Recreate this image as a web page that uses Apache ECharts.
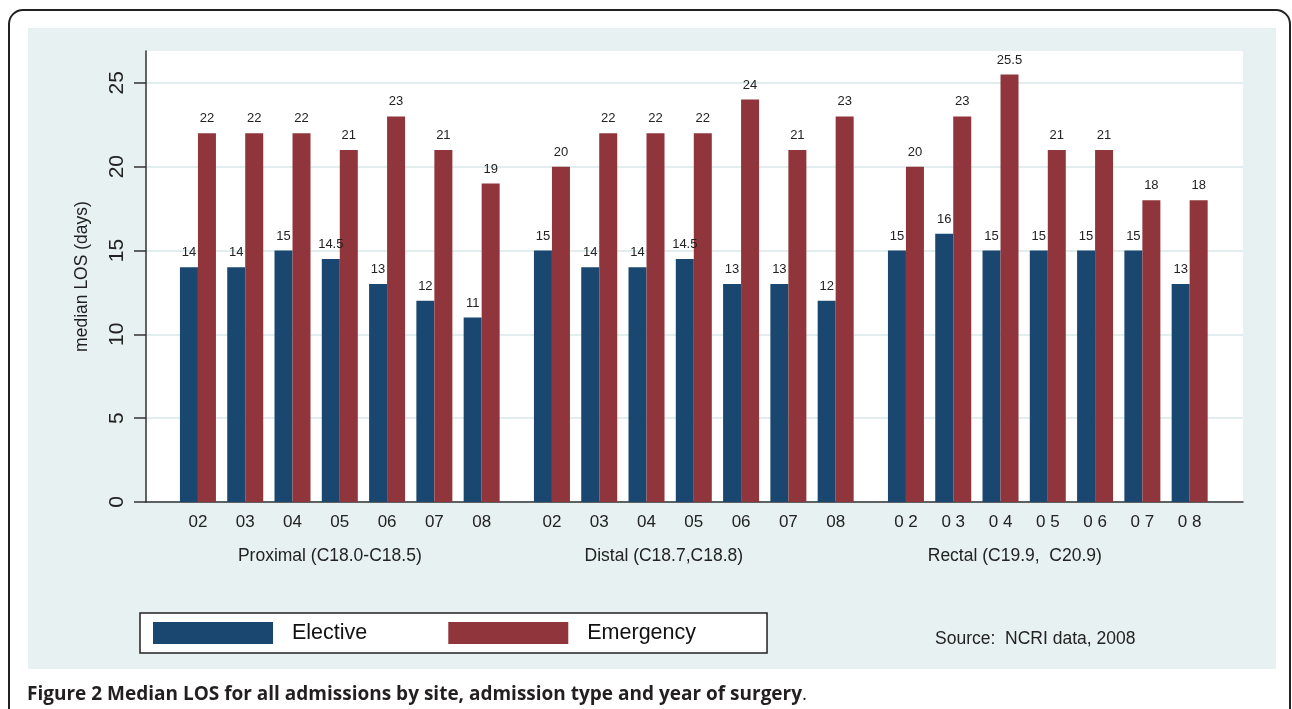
<!DOCTYPE html>
<html>
<head>
<meta charset="utf-8">
<script src="https://cdn.jsdelivr.net/npm/echarts@6/dist/echarts.min.js"></script>
<style>
  html, body { margin: 0; padding: 0; background: #fff; }
  #chart { width: 1292px; height: 709px; }
</style>
</head>
<body>
<div id="chart"></div>
<script>
// values
const years = ['02', '03', '04', '05', '06', '07', '08']
const rectalYears = ['0 2', '0 3', '0 4', '0 5', '0 6', '0 7', '0 8']
const groupNames = ['Proximal (C18.0-C18.5)', 'Distal (C18.7,C18.8)', 'Rectal (C19.9,  C20.9)']

const electiveProximal = [14, 14, 15, 14.5, 13, 12, 11]
const emergencyProximal = [22, 22, 22, 21, 23, 21, 19]
const electiveDistal = [15, 14, 14, 14.5, 13, 13, 12]
const emergencyDistal = [20, 22, 22, 22, 24, 21, 23]
const electiveRectal = [15, 16, 15, 15, 15, 15, 13]
const emergencyRectal = [20, 23, 25.5, 21, 21, 18, 18]

const yTicks = [0, 5, 10, 15, 20, 25]

const font = '"Liberation Sans", Arial, sans-serif'
const navy = '#1a476f'
const maroon = '#90353b'
const ink = '#222'

const chart = echarts.init(document.getElementById('chart'))

const plotTop = 51
const plotBottom = 207
const yMax = 26.9
const groupLeft = [174.3, 528.3, 882.3]
const groupWidth = 331
const groupNamePad = [20, 60, 66]

const groupCats = [years, years, rectalYears]
const groupElective = [electiveProximal, electiveDistal, electiveRectal]
const groupEmergency = [emergencyProximal, emergencyDistal, emergencyRectal]

const grids = [{ left: 146, right: 49, top: plotTop, bottom: plotBottom, show: true, backgroundColor: '#fff', borderWidth: 0 }]
const xAxes = [{
    gridIndex: 0, type: 'value', min: 0, max: 1,
    axisLine: { show: true, lineStyle: { color: '#333', width: 1.5 } },
    axisTick: { show: false }, axisLabel: { show: false }, splitLine: { show: false }
}]
const yAxes = [{
    gridIndex: 0, type: 'value', min: 0, max: yMax,
    name: 'median LOS (days)', nameLocation: 'middle', nameGap: 55, nameRotate: 90,
    nameTextStyle: { fontSize: 17.5, color: ink, fontFamily: font },
    axisLine: { show: true, lineStyle: { color: '#333', width: 1.5 } },
    axisTick: { show: true, length: 12, customValues: yTicks, lineStyle: { color: '#333', width: 1.5 } },
    axisLabel: { customValues: yTicks, rotate: 90, fontSize: 21, color: ink, fontFamily: font, margin: 18 },
    splitLine: { show: true, lineStyle: { color: '#e2edef', width: 2 } }
}]
const series = []

const labelOpt = { show: true, position: 'top', distance: 8, color: ink, fontSize: 13, fontFamily: font }

groupNames.forEach((g, i) => {
    grids.push({ left: groupLeft[i], width: groupWidth, top: plotTop, bottom: plotBottom })
    xAxes.push({
        gridIndex: i + 1, type: 'category', data: groupCats[i],
        axisLine: { show: false }, axisTick: { show: false },
        axisLabel: { fontSize: 17, color: ink, fontFamily: font, margin: 12 },
        name: g, nameLocation: 'middle', nameGap: 45,
        nameTextStyle: { fontSize: 17.5, color: ink, fontFamily: font, padding: [0, groupNamePad[i], 0, 0] }
    })
    yAxes.push({ gridIndex: i + 1, type: 'value', min: 0, max: yMax, show: false })
    series.push({
        name: 'Elective', type: 'bar', xAxisIndex: i + 1, yAxisIndex: i + 1,
        data: groupElective[i], barWidth: 18, barGap: '0%',
        itemStyle: { color: navy }, label: labelOpt
    })
    series.push({
        name: 'Emergency', type: 'bar', xAxisIndex: i + 1, yAxisIndex: i + 1,
        data: groupEmergency[i], barWidth: 18, barGap: '0%',
        itemStyle: { color: maroon }, label: labelOpt
    })
})

const options = {
    animation: false,
    backgroundColor: '#fff',
    grid: grids,
    xAxis: xAxes,
    yAxis: yAxes,
    series: series,
    legend: {
        left: 140, top: 613,
        data: ['Elective', 'Emergency'],
        icon: 'rect', itemWidth: 120, itemHeight: 22, itemGap: 81,
        padding: [9, 71, 9, 13],
        borderColor: '#222', borderWidth: 1.5, backgroundColor: '#fff',
        selectedMode: false,
        textStyle: { fontSize: 21.5, color: '#111', fontFamily: font, padding: [3, 0, 0, 14] }
    },
    graphic: [
        {
            type: 'rect', z: -10, silent: true,
            shape: { x: 28, y: 28, width: 1248, height: 641 },
            style: { fill: '#e8f1f2' }
        },
        {
            type: 'rect', z: -9, silent: true,
            shape: { x: 9, y: 10, width: 1281, height: 760, r: 14 },
            style: { fill: 'none', stroke: '#222', lineWidth: 2 }
        },
        {
            type: 'text', silent: true,
            style: { text: 'Source:  NCRI data, 2008', x: 935, y: 639, verticalAlign: 'middle', fill: ink, fontSize: 17.5, fontFamily: font }
        },
        {
            type: 'text', silent: true,
            style: {
                text: '{b|Figure 2 Median LOS for all admissions by site, admission type and year of surgery}{n|.}',
                x: 27, y: 695, verticalAlign: 'middle',
                rich: {
                    b: { fontSize: 19, fontWeight: 'bold', fontFamily: '"Open Sans", sans-serif', fill: '#231f20' },
                    n: { fontSize: 19, fontFamily: '"Open Sans", sans-serif', fill: '#231f20' }
                }
            }
        }
    ]
}

chart.setOption(options)
</script>
</body>
</html>
